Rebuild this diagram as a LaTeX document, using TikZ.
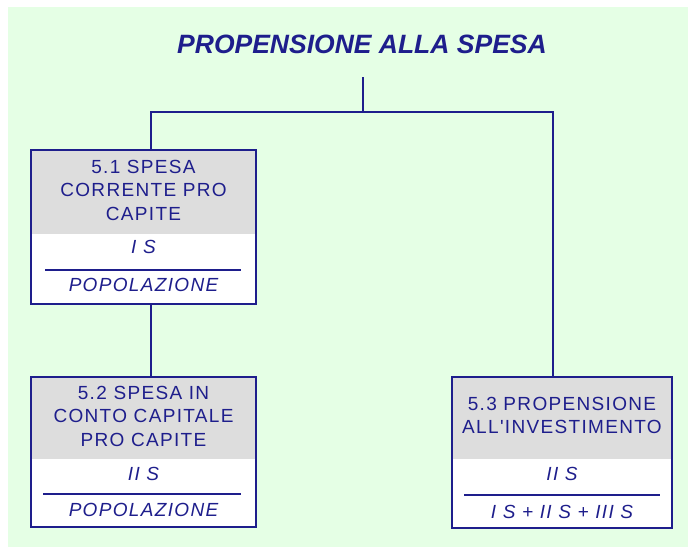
\documentclass[tikz,border=0pt]{standalone}
\usepackage{fontspec}
\setmainfont{Liberation Sans}
\newfontfamily\boxfont{Liberation Sans}[LetterSpace=7]
\usetikzlibrary{positioning}

\definecolor{navy}{RGB}{30,30,140}
\definecolor{headgray}{RGB}{221,221,221}
\definecolor{bggreen}{RGB}{229,255,229}

\tikzset{
    wire/.style={draw=navy, line width=2pt},
    box/.style={draw=navy, line width=2pt, fill=white, inner sep=0pt,
        path picture={\fill[headgray] (path picture bounding box.north west)
            rectangle ([yshift=-#1]path picture bounding box.north east);}},
    txt/.style={text=navy, align=center, inner sep=0pt,
        font=\boxfont\fontsize{19}{23.5}\selectfont},
    frac/.style={txt, font=\boxfont\itshape\fontsize{19}{23.5}\selectfont},
}

\begin{document}
\begin{tikzpicture}[x=1pt,y=-1pt]
    \useasboundingbox (0,0) rectangle (688,547);
    \fill[bggreen] (8,7) rectangle (688,547);

    \node[text=navy, font=\bfseries\itshape\fontsize{26.5}{30}\selectfont] (titolo) at (362,44) {PROPENSIONE ALLA SPESA};

    \node[box=84pt, minimum width=225pt, minimum height=154pt] (spc) at (143.5,227) {};
    \node[box=82pt, minimum width=225pt, minimum height=150pt] (scc) at (143.5,452) {};
    \node[box=82pt, minimum width=220pt, minimum height=151pt] (inv) at (562,452.5) {};

    \node[txt] (spch) at (143.5,190) {5.1 SPESA\\CORRENTE PRO\\CAPITE};
    \node[frac] (spcn) at (143.5,247) {I S};
    \node[frac] (spcd) at (143.5,285) {POPOLAZIONE};
    \draw[wire] (45,270) -- (241,270);

    \node[txt] (scch) at (143.5,416) {5.2 SPESA IN\\CONTO CAPITALE\\PRO CAPITE};
    \node[frac] (sccn) at (143.5,474) {II S};
    \node[frac] (sccd) at (143.5,510) {POPOLAZIONE};
    \draw[wire] (43,494) -- (241,494);

    \node[txt] (invh) at (562,415.5) {5.3 PROPENSIONE\\ALL'INVESTIMENTO};
    \node[frac] (invn) at (562,474) {II S};
    \node[frac] (invd) at (562,512) {I S + II S + III S};
    \draw[wire] (464,495) -- (660,495);

    \coordinate (tp) at (363,77);
    \coordinate (jn) at (363,112);
    \draw[wire] (tp) -- (jn);
    \draw[wire] ([xshift=7.5pt]spc.north) |- (jn) -| ([xshift=-9pt]inv.north);
    \draw[wire] ([xshift=7.5pt]spc.south) -- ([xshift=7.5pt]scc.north);
\end{tikzpicture}
\end{document}
